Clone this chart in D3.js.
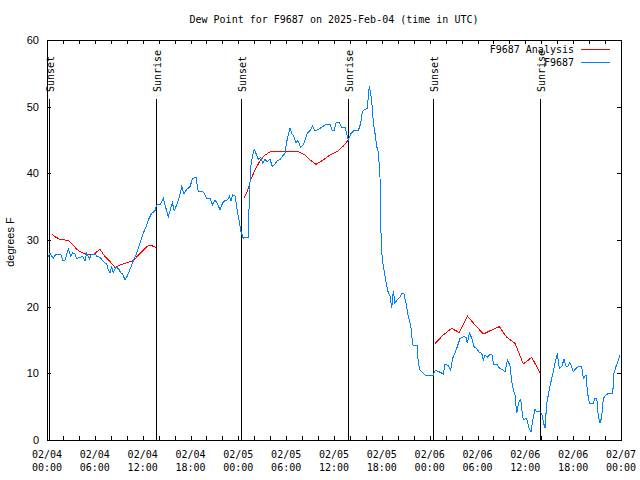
<!DOCTYPE html>
<html><head><meta charset="utf-8">
<script src="https://cdn.jsdelivr.net/npm/d3@7"></script>
<style>
body{margin:0;background:#fff;}
text{font-family:"DejaVu Sans Mono",monospace;font-size:10px;fill:#000;}
.sans{font-family:"Liberation Sans",Arial,sans-serif;font-size:11px;}
</style></head><body>
<svg id="c" width="640" height="480"></svg>
<script>
const titleText = "Dew Point for F9687 on 2025-Feb-04 (time in UTC)";
const yLabel = "degrees F";
const seriesNames = ["F9687 Analysis", "F9687"];
const yTicks = [0, 10, 20, 30, 40, 50, 60];

// hours since 2025-02-04 00:00 UTC
const obsHours = [0.17,0.37,0.8,1.13,1.71,1.96,2.26,2.68,2.97,3.22,3.51,3.72,4.14,4.47,4.77,4.97,5.31,5.6,6.02,6.31,6.65,7.06,7.49,7.69,7.9,8.11,8.32,8.66,8.95,9.24,9.49,9.78,10.08,10.41,10.83,11.25,11.67,12.08,12.42,12.71,13.13,13.55,13.76,14.17,14.59,14.8,15.22,15.51,15.72,15.97,16.26,16.6,16.9,17.19,17.52,17.94,18.27,18.69,18.98,19.61,20.03,20.45,20.78,21.07,21.36,21.7,22.04,22.33,22.62,22.87,23.08,23.29,23.58,23.71,23.92,24.12,24.34,24.62,24.84,25.25,25.38,25.55,25.8,26.0,26.3,26.51,26.8,27.05,27.35,27.64,27.97,28.27,28.6,28.89,29.23,29.56,29.85,30.07,30.27,30.48,30.69,30.98,31.23,31.45,31.65,31.82,32.15,32.45,32.65,32.99,33.33,33.62,34.03,34.46,34.87,35.5,35.79,36.0,36.25,36.67,36.96,37.38,37.59,37.8,38.1,38.42,39.05,39.35,39.56,39.89,40.18,40.3,40.43,40.6,40.73,40.93,41.14,41.36,41.56,41.77,41.86,41.98,42.11,42.27,42.44,42.61,42.81,43.03,43.24,43.44,43.65,43.94,44.28,44.49,44.78,45.03,45.32,45.62,45.87,46.45,46.57,46.79,47.41,48.46,48.67,49.08,49.71,49.93,50.35,50.64,50.89,51.18,51.47,51.81,52.23,52.56,52.73,52.98,53.28,53.57,53.91,54.24,54.53,54.74,54.95,55.24,55.49,55.8,56.0,56.42,56.75,57.05,57.46,57.75,58.09,58.29,58.5,58.71,58.92,59.13,59.43,59.55,59.75,60.17,60.5,60.71,60.93,61.21,61.42,61.75,62.04,62.25,62.47,62.68,62.88,63.09,63.31,63.51,63.72,64.01,64.26,64.56,64.85,65.06,65.31,65.6,65.81,66.02,66.36,66.64,67.07,67.28,67.61,67.78,68.03,68.53,68.74,68.96,69.16,69.37,69.58,69.78,70.12,70.41,70.96,71.12,71.37,71.66,71.88];
const obsDew = [27.5,28.0,27.25,27.9,27.9,27.0,27.0,28.65,27.6,28.1,27.9,27.25,27.4,27.6,26.9,28.0,27.15,27.9,27.9,27.5,27.4,26.75,26.4,25.5,25.1,25.9,25.1,25.9,25.75,25.1,24.9,24.0,24.6,25.6,26.9,28.0,29.5,31.0,32.0,33.0,34.0,34.4,35.25,35.3,36.25,35.25,33.5,34.75,35.6,34.4,35.25,36.5,38.0,36.9,37.6,38.0,39.25,39.4,37.25,37.2,36.25,36.2,35.25,36.0,35.5,34.5,35.6,35.9,36.0,36.6,35.9,36.75,36.6,35.75,34.0,32.75,31.25,30.25,30.4,30.4,36.5,41.0,42.75,43.6,42.75,42.1,42.4,41.5,42.1,41.75,42.1,41.0,41.4,41.9,42.1,42.6,43.0,44.75,45.75,46.75,46.0,45.5,44.6,44.9,44.4,43.9,44.25,45.25,46.0,46.4,47.1,46.4,46.6,46.9,47.25,47.4,46.4,46.4,47.6,47.6,46.9,46.9,45.9,45.0,45.9,46.35,46.4,47.5,49.25,49.6,49.75,51.5,53.1,52.0,50.75,47.75,46.0,44.0,43.25,39.5,32.25,28.25,26.75,25.5,24.25,23.1,22.1,21.6,19.75,22.4,20.5,21.1,21.4,22.0,21.9,20.5,18.5,17.25,14.25,14.2,11.5,10.5,9.75,9.75,10.4,10.3,9.9,11.4,11.1,10.5,12.25,13.1,14.0,15.25,15.5,15.4,14.5,16.1,15.25,14.0,13.75,13.1,13.0,12.0,12.75,12.4,12.75,12.9,11.4,11.4,10.75,10.6,10.25,12.0,11.1,8.75,7.5,6.75,4.0,5.5,6.1,4.6,3.0,3.25,1.6,1.25,3.0,4.6,4.25,4.3,4.0,2.75,1.75,5.5,6.75,8.1,9.25,10.25,11.5,13.0,10.75,11.0,12.1,11.1,11.0,11.6,11.0,10.25,10.75,11.0,11.0,9.25,9.75,7.25,5.5,5.5,6.25,6.25,3.5,2.5,3.5,6.25,6.75,7.0,7.0,10.0,11.0,12.0,12.75];

// analysis, null marks a gap
const anaHours = [0.59,1.0,1.63,2.26,2.68,3.3,3.72,4.35,5.18,5.81,6.65,7.28,7.9,8.53,9.16,10.0,10.83,11.67,12.42,12.92,13.67,null,24.71,25.13,25.55,26.09,26.72,27.35,27.97,28.81,30.07,31.52,32.36,32.99,33.74,34.66,35.5,36.54,37.17,37.8,null,48.67,49.71,50.76,51.72,52.73,53.69,54.74,55.78,56.74,57.67,58.71,59.75,60.8,61.84];
const anaDew = [30.9,30.5,30.1,30.0,29.9,29.25,28.6,28.1,27.75,27.8,28.6,27.5,26.75,25.9,26.25,26.6,26.9,28.0,28.9,29.25,28.9,null,36.25,37.25,39.0,40.5,41.9,42.75,43.2,43.35,43.25,43.25,42.75,42.0,41.35,42.0,42.75,43.4,44.1,45.0,null,14.5,15.75,16.75,16.1,18.6,17.25,15.9,16.5,17.0,15.4,14.5,11.4,12.4,10.1];

const sunsetHours = [0.29, 24.38, 48.47];
const sunriseHours = [13.71, 37.8, 61.9];

const start = Date.UTC(2025,1,4,0,0);
const toDate = h => new Date(start + h*3600000);

const L=47, R=621, T=40, B=440;
const x = d3.scaleUtc().domain([toDate(0), toDate(72)]).range([L,R]);
const y = d3.scaleLinear().domain([0,60]).range([B,T]);

const svg = d3.select("#c");

svg.append("text").attr("x",(L+R)/2).attr("y",23).attr("text-anchor","middle").text(titleText);

svg.append("text").attr("class","sans").attr("transform","translate(14,242) rotate(-90)")
  .attr("text-anchor","middle").text(yLabel);

const g = svg.append("g").attr("shape-rendering","crispEdges").attr("stroke","#000");
d3.utcHour.every(2).range(toDate(0), toDate(72.01)).forEach(d=>{
  const xx = Math.round(x(d))+0.5;
  g.append("line").attr("x1",xx).attr("x2",xx).attr("y1",B).attr("y2",B-4);
  g.append("line").attr("x1",xx).attr("x2",xx).attr("y1",T).attr("y2",T+4);
});
yTicks.forEach(v=>{
  const yy = Math.round(y(v))+0.5;
  g.append("line").attr("x1",L).attr("x2",L+4).attr("y1",yy).attr("y2",yy);
  g.append("line").attr("x1",R).attr("x2",R-4).attr("y1",yy).attr("y2",yy);
  svg.append("text").attr("class","sans").attr("x",39).attr("y",y(v)+4).attr("text-anchor","end").text(v);
});
const fmtD = d3.utcFormat("%m/%d"), fmtT = d3.utcFormat("%H:%M");
d3.utcHour.every(6).range(toDate(0), toDate(72.01)).forEach(d=>{
  const t = svg.append("text").attr("text-anchor","middle");
  t.append("tspan").attr("x",x(d)).attr("y",458).text(fmtD(d));
  t.append("tspan").attr("x",x(d)).attr("y",471).text(fmtT(d));
});

const sun = sunsetHours.map(h=>({h,l:"Sunset"})).concat(sunriseHours.map(h=>({h,l:"Sunrise"})));
sun.forEach(s=>{
  const xx = Math.round(x(toDate(s.h)))+0.5;
  g.append("line").attr("x1",xx).attr("x2",xx).attr("y1",99).attr("y2",B);
  svg.append("text").attr("transform",`translate(${xx+4},92) rotate(-90)`).attr("text-anchor","start").text(s.l);
});

const obs = obsHours.map((h,i)=>({t:toDate(h),v:obsDew[i]}));
const ana = anaHours.map((h,i)=>({t:h==null?null:toDate(h),v:anaDew[i]}));
const line2 = d3.line().defined(d=>d.t!=null && d.v!=null).x(d=>x(d.t)).y(d=>y(d.v));
svg.append("path").datum(ana).attr("d",line2).attr("fill","none").attr("stroke","#ff0000").attr("stroke-width",1).attr("shape-rendering","crispEdges");
svg.append("path").datum(obs).attr("d",line2).attr("fill","none").attr("stroke","#0080ff").attr("stroke-width",1).attr("shape-rendering","crispEdges");

g.append("rect").attr("x",L+0.5).attr("y",T+0.5).attr("width",R-L).attr("height",B-T).attr("fill","none");

const colors = ["#ff0000","#0080ff"];
seriesNames.forEach((n,i)=>{
  const ly = 49 + i*13;
  svg.append("text").attr("x",574).attr("y",ly+4).attr("text-anchor","end").text(n);
  svg.append("line").attr("x1",581).attr("x2",610).attr("y1",ly+0.5).attr("y2",ly+0.5).attr("stroke",colors[i]).attr("shape-rendering","crispEdges");
});
</script></body></html>
